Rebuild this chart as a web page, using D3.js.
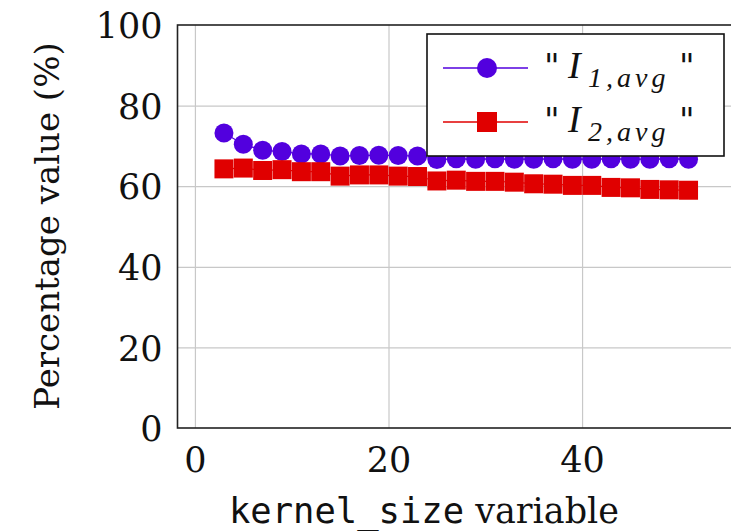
<!DOCTYPE html>
<html>
<head>
<meta charset="utf-8">
<script src="https://cdn.jsdelivr.net/npm/d3@7"></script>
<style>
  body { margin: 0; background: white; }
  svg { display: block; }
  .tick text { font-family: "DejaVu Serif", serif; font-size: 35px; fill: #111; }
</style>
</head>
<body>
<svg></svg>
<script>
// kernel sizes and the two averaged percentages
const kernel_sizes = [3, 5, 7, 9, 11, 13, 15, 17, 19, 21, 23, 25, 27, 29, 31, 33, 35, 37, 39, 41, 43, 45, 47, 49, 51];
const i1_avg = [73.2, 70.4, 68.9, 68.6, 68.0, 68.0, 67.5, 67.6, 67.7, 67.6, 67.5, 66.6, 66.8, 66.7, 66.8, 66.7, 66.7, 66.8, 66.7, 66.7, 66.8, 66.7, 66.7, 66.8, 66.7];
const i2_avg = [64.3, 64.5, 63.9, 64.1, 63.6, 63.6, 62.5, 62.8, 62.8, 62.5, 62.4, 61.3, 61.5, 61.2, 61.2, 61.0, 60.6, 60.5, 60.2, 60.2, 59.7, 59.6, 59.2, 59.1, 59.0];
const x_ticks = [0, 20, 40];
const y_ticks = [0, 20, 40, 60, 80, 100];
const series_names = ["I", "I"];
const series_subs = ["1,avg", "2,avg"];

const serif = "'DejaVu Serif', serif";
const mono = "'DejaVu Sans Mono', monospace";
const math = "'Liberation Serif', serif";

const svg_width = 731;
const svg_height = 531;
const svg = d3.select("svg")
    .attr("width", svg_width)
    .attr("height", svg_height);

const blue = "#5200de";
const red = "#e00000";

const plot_left = 177.5, plot_right = 735, plot_top = 25, plot_bottom = 428;

const x = d3.scaleLinear().domain([-1.8, 55.8]).range([plot_left, plot_right]);
const y = d3.scaleLinear().domain([0, 100]).range([plot_bottom, plot_top]);

// grid
svg.append("g")
    .attr("transform", `translate(0,${plot_bottom})`)
    .call(d3.axisBottom(x).tickValues(x_ticks).tickSize(-(plot_bottom - plot_top)).tickFormat(""))
    .call(g => g.select(".domain").remove())
    .call(g => g.selectAll("line").attr("stroke", "#c8c8c8").attr("stroke-width", 1.2));

svg.append("g")
    .attr("transform", `translate(${plot_left},0)`)
    .call(d3.axisLeft(y).tickValues(y_ticks.slice(1, -1)).tickSize(-(plot_right - plot_left)).tickFormat(""))
    .call(g => g.select(".domain").remove())
    .call(g => g.selectAll("line").attr("stroke", "#c8c8c8").attr("stroke-width", 1.2));

// tick labels
svg.append("g")
    .attr("transform", `translate(0,${plot_bottom})`)
    .call(d3.axisBottom(x).tickValues(x_ticks).tickSize(0).tickPadding(19))
    .call(g => g.select(".domain").remove());

svg.append("g")
    .attr("transform", `translate(${plot_left},0)`)
    .call(d3.axisLeft(y).tickValues(y_ticks).tickSize(0).tickPadding(15))
    .call(g => g.select(".domain").remove())
    .call(g => g.selectAll("text").attr("dy", "0.365em"));

// series lines and marks
const line = d3.line()
    .x((d, i) => x(kernel_sizes[i]))
    .y(d => y(d));

svg.append("path")
    .datum(i1_avg)
    .attr("d", line)
    .attr("fill", "none")
    .attr("stroke", blue)
    .attr("stroke-width", 1.2);

svg.append("g").selectAll("circle")
    .data(i1_avg)
    .join("circle")
    .attr("cx", (d, i) => x(kernel_sizes[i]))
    .attr("cy", d => y(d))
    .attr("r", 9.5)
    .attr("fill", blue);

svg.append("path")
    .datum(i2_avg)
    .attr("d", line)
    .attr("fill", "none")
    .attr("stroke", red)
    .attr("stroke-width", 1.2);

const sq = 19;
svg.append("g").selectAll("rect")
    .data(i2_avg)
    .join("rect")
    .attr("x", (d, i) => x(kernel_sizes[i]) - sq / 2)
    .attr("y", d => y(d) - sq / 2)
    .attr("width", sq)
    .attr("height", sq)
    .attr("fill", red);

// frame
svg.append("rect")
    .attr("x", plot_left)
    .attr("y", plot_top)
    .attr("width", plot_right - plot_left)
    .attr("height", plot_bottom - plot_top)
    .attr("fill", "none")
    .attr("stroke", "#222")
    .attr("stroke-width", 1.6);

// legend
const legend = svg.append("g");
legend.append("rect")
    .attr("x", 427)
    .attr("y", 34)
    .attr("width", 297)
    .attr("height", 122)
    .attr("fill", "white")
    .attr("stroke", "#111")
    .attr("stroke-width", 1.6);

const colors = [blue, red];
[0, 1].forEach(k => {
    const ly = 68 + k * 54;
    legend.append("line")
        .attr("x1", 443).attr("x2", 528)
        .attr("y1", ly).attr("y2", ly)
        .attr("stroke", colors[k])
        .attr("stroke-width", 1.5);
    if (k === 0) {
        legend.append("circle").attr("cx", 487).attr("cy", ly).attr("r", 10).attr("fill", blue);
    } else {
        legend.append("rect").attr("x", 487 - 10).attr("y", ly - 10).attr("width", 20).attr("height", 20).attr("fill", red);
    }
    const base = ly + 10;
    legend.append("text")
        .style("font-family", serif)
        .attr("x", 544).attr("y", base)
        .style("font-size", "34px").attr("fill", "#111")
        .text("\"");
    legend.append("text")
        .style("font-family", math).style("font-style", "italic")
        .attr("x", 568).attr("y", base)
        .style("font-size", "38px").attr("fill", "#111")
        .text(series_names[k]);
    legend.append("text")
        .style("font-family", math).style("font-style", "italic")
        .attr("x", 588).attr("y", base + 9)
        .style("font-size", "28px").attr("letter-spacing", 4).attr("fill", "#111")
        .text(series_subs[k]);
    legend.append("text")
        .style("font-family", serif)
        .attr("x", 679).attr("y", base)
        .style("font-size", "34px").attr("fill", "#111")
        .text("\"");
});

// axis titles
svg.append("text")
    .style("font-family", serif)
    .style("font-size", "34px")
    .attr("transform", `translate(59,226) rotate(-90)`)
    .attr("text-anchor", "middle")
    .attr("fill", "#111")
    .text("Percentage value (%)");

const xl = svg.append("text")
    .attr("x", 424)
    .attr("y", 523)
    .attr("text-anchor", "middle")
    .attr("fill", "#111");
xl.append("tspan").style("font-family", mono).style("font-size", "35.5px").text("kernel_size");
xl.append("tspan").style("font-family", serif).style("font-size", "35px").text(" variable");
</script>
</body>
</html>
